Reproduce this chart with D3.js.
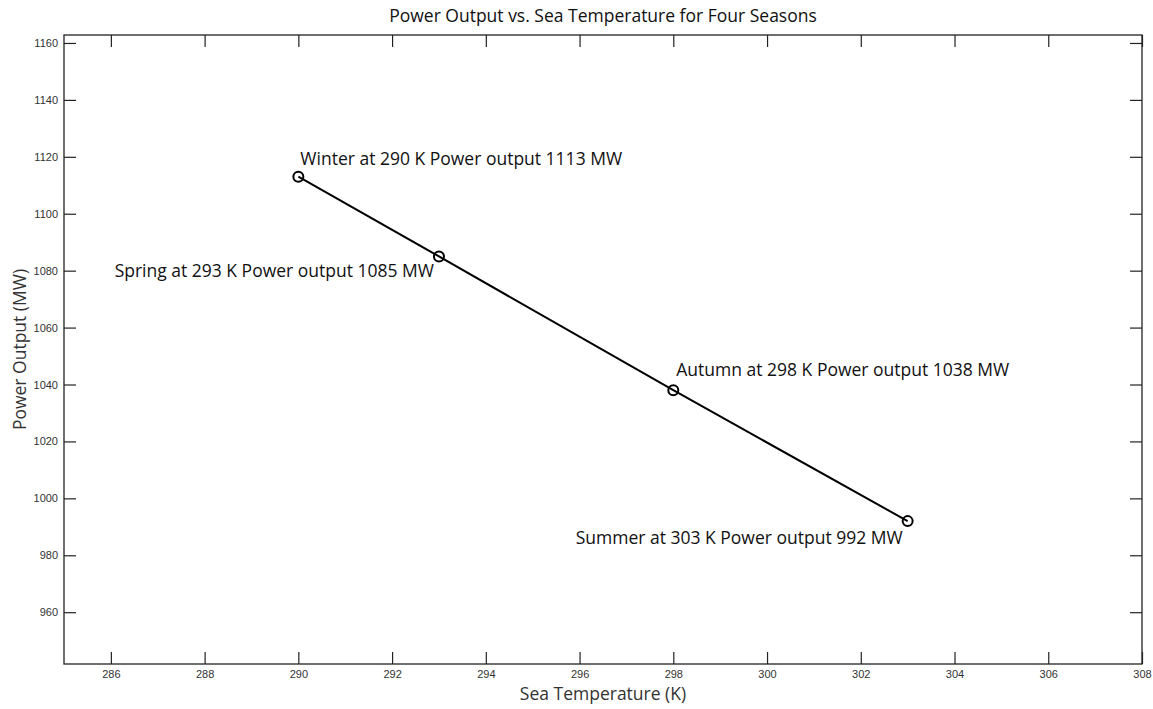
<!DOCTYPE html>
<html>
<head>
<meta charset="utf-8">
<script src="https://cdn.jsdelivr.net/npm/d3@7"></script>
<style>
  body { margin: 0; background: #fff; }
  .lbl { font-family: "Open Sans", sans-serif; fill: #111; }
</style>
</head>
<body>
<div class="chart"></div>
<script>
var svgWidth = 1153;
var svgHeight = 709;

var margin = { top: 35, right: 11, bottom: 45, left: 64 };
var width = svgWidth - margin.left - margin.right;
var height = svgHeight - margin.top - margin.bottom;

// data
var seasons = ["Winter", "Spring", "Autumn", "Summer"];
var seaTemp = [290, 293, 298, 303];
var powerOut = [1113, 1085, 1038, 992];
var xTicks = [286, 288, 290, 292, 294, 296, 298, 300, 302, 304, 306, 308];
var yTicks = [960, 980, 1000, 1020, 1040, 1060, 1080, 1100, 1120, 1140, 1160];

var data = seasons.map(function (s, i) {
  return { season: s, temp: seaTemp[i], power: powerOut[i] };
});

var svg = d3.select(".chart")
  .append("svg")
  .attr("width", svgWidth)
  .attr("height", svgHeight);

var chartGroup = svg.append("g")
  .attr("transform", `translate(${margin.left}, ${margin.top})`);

var x = d3.scaleLinear().domain([285, 308]).range([0, width]);
var y = d3.scaleLinear().domain([941.8, 1162.8]).range([height, 0]);
var fmt = d3.format("d");

// axes, ticks pointing inward, mirrored on top/right
chartGroup.append("g")
  .attr("transform", `translate(0, ${height})`)
  .call(d3.axisBottom(x).tickValues(xTicks).tickSizeInner(-12).tickSizeOuter(0).tickPadding(6).tickFormat(fmt));
chartGroup.append("g")
  .call(d3.axisTop(x).tickValues(xTicks).tickSizeInner(-12).tickSizeOuter(0).tickFormat(""));
chartGroup.append("g")
  .call(d3.axisLeft(y).tickValues(yTicks).tickSizeInner(-12).tickSizeOuter(0).tickPadding(6).tickFormat(fmt));
chartGroup.append("g")
  .attr("transform", `translate(${width}, 0)`)
  .call(d3.axisRight(y).tickValues(yTicks).tickSizeInner(-12).tickSizeOuter(0).tickFormat(""));

chartGroup.selectAll(".domain").remove();
chartGroup.selectAll(".tick line").attr("stroke", "#222").attr("stroke-width", 1.2);
chartGroup.selectAll(".tick text")
  .attr("font-family", "'Liberation Sans', Arial, sans-serif")
  .attr("font-size", 11)
  .attr("fill", "#333");

chartGroup.append("rect")
  .attr("width", width)
  .attr("height", height)
  .attr("fill", "none")
  .attr("stroke", "#222")
  .attr("stroke-width", 1.3);

// line + markers
var line = d3.line().x(d => x(d.temp)).y(d => y(d.power));
chartGroup.append("path")
  .datum(data)
  .attr("d", line)
  .attr("fill", "none")
  .attr("stroke", "#000")
  .attr("stroke-width", 2);

chartGroup.selectAll("circle")
  .data(data)
  .enter()
  .append("circle")
  .attr("cx", d => x(d.temp))
  .attr("cy", d => y(d.power))
  .attr("r", 5)
  .attr("fill", "none")
  .attr("stroke", "#000")
  .attr("stroke-width", 2);

// point annotations
var annot = {
  Winter: { anchor: "start", dx: 2, dy: -12 },
  Spring: { anchor: "end", dx: -5, dy: 21 },
  Autumn: { anchor: "start", dx: 3, dy: -14 },
  Summer: { anchor: "end", dx: -5, dy: 23 }
};
chartGroup.selectAll(".annot")
  .data(data)
  .enter()
  .append("text")
  .attr("class", "lbl annot")
  .attr("x", d => x(d.temp) + annot[d.season].dx)
  .attr("y", d => y(d.power) + annot[d.season].dy)
  .attr("text-anchor", d => annot[d.season].anchor)
  .style("font-size", "17.5px")
  .text(d => `${d.season} at ${d.temp} K Power output ${d.power} MW`);

// title and axis labels
svg.append("text")
  .attr("class", "lbl")
  .attr("x", margin.left + width / 2)
  .attr("y", 22)
  .attr("text-anchor", "middle")
  .style("font-size", "17.5px")
  .text("Power Output vs. Sea Temperature for Four Seasons");

svg.append("text")
  .attr("class", "lbl")
  .attr("x", margin.left + width / 2)
  .attr("y", 700)
  .attr("text-anchor", "middle")
  .style("font-size", "17.5px")
  .style("fill", "#333")
  .text("Sea Temperature (K)");

svg.append("text")
  .attr("class", "lbl")
  .attr("transform", `translate(26, ${margin.top + height / 2}) rotate(-90)`)
  .attr("text-anchor", "middle")
  .style("font-size", "17.5px")
  .style("fill", "#333")
  .text("Power Output (MW)");
</script>
</body>
</html>
